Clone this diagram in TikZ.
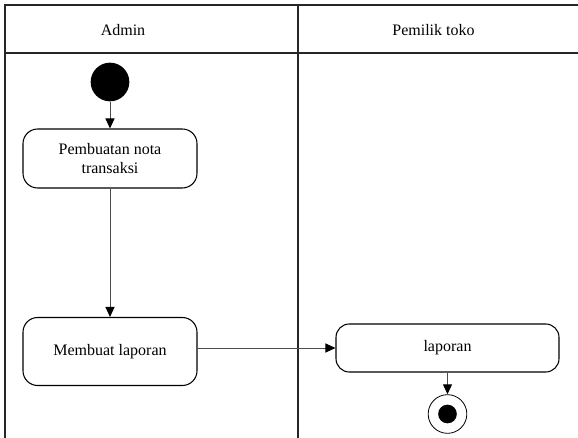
\documentclass[tikz,border=0pt]{standalone}
\usepackage{fontspec}
\setmainfont{Liberation Serif}
\usetikzlibrary{arrows.meta}
\begin{document}
\begin{tikzpicture}[x=0.75pt,y=-0.75pt,
  font=\fontsize{12}{14.25}\selectfont,
  lane/.style={line width=1.3pt,draw=black!85},
  action/.style={draw=black,line width=0.8pt,rounded corners=11pt,align=center,inner sep=2pt},
  flow/.style={draw=black!70,line width=0.75pt,-{Triangle[length=7.5pt,width=6.8pt,color=black]}},
  startdot/.style={circle,fill=black,minimum size=29pt,inner sep=0pt},
  endring/.style={circle,draw=black,line width=0.6pt,fill=white,minimum size=29pt,inner sep=0pt},
  enddot/.style={circle,fill=black,minimum size=14pt,inner sep=0pt}]
\useasboundingbox (0,0) rectangle (578,438);

% swimlane frame
\draw[lane] (578,5) -- (5,5) -- (5,438);
\draw[lane] (5,53) -- (578,53);
\draw[lane] (298,5) -- (298,438);

% lane headers
\node (hadmin) at (123,30) {Admin};
\node (howner) at (433.5,30) {Pemilik toko};

% start
\node[startdot] (start) at (110,82) {};

% actions
\node[action,minimum width=130.5pt,minimum height=44.25pt] (nota) at (110,158.5) {Pembuatan nota\\transaksi};
\node[action,minimum width=130.5pt,minimum height=51pt] (buat) at (110,351.5) {Membuat laporan};
\node[action,minimum width=167.25pt,minimum height=36pt,rounded corners=10pt] (lap) at (447.5,348) {laporan};

% end
\node[endring] (end) at (447.5,414) {};
\node[enddot] (enddot) at (end.center) {};

% flows
\draw[flow] (start) -- (nota);
\draw[flow] (nota) -- (buat);
\draw[flow] (buat.east |- lap.west) -- (lap.west);
\draw[flow] (lap) -- (end);
\end{tikzpicture}
\end{document}
